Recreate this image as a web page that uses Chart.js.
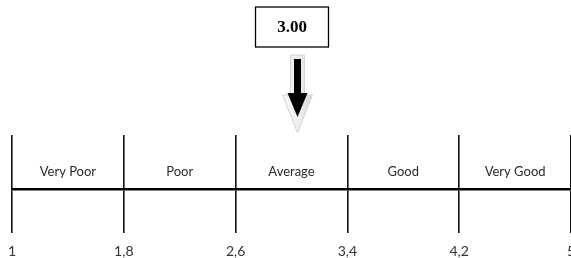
<!DOCTYPE html>
<html>
<head>
<meta charset="utf-8">
<script src="https://cdn.jsdelivr.net/npm/chart.js@4/dist/chart.umd.min.js"></script>
<style>
  html, body { margin: 0; padding: 0; background: #fff; overflow: hidden; }
  #wrap { width: 571px; height: 258px; }
</style>
</head>
<body>
<div id="wrap"><canvas id="scale-chart"></canvas></div>
<script>
// --- Data ---
const scoreValue = 3.00;
const tickValues = [1, 1.8, 2.6, 3.4, 4.2, 5];
const categories = ['Very Poor', 'Poor', 'Average', 'Good', 'Very Good'];

// labels, arrow and value box drawn from the x scale
const scaleExtras = {
    id: 'scaleExtras',
    afterDraw(chart) {
        const ctx = chart.ctx;
        const x = chart.scales.x;
        const area = chart.chartArea;

        // category names between the ticks
        ctx.save();
        ctx.fillStyle = '#2b2b2b';
        ctx.font = '13px Lato';
        ctx.textAlign = 'center';
        ctx.textBaseline = 'middle';
        categories.forEach((name, i) => {
            const mid = (tickValues[i] + tickValues[i + 1]) / 2;
            ctx.fillText(name, x.getPixelForValue(mid), area.top + 37);
        });
        ctx.restore();

        const cx = x.getPixelForValue(scoreValue);

        // value box
        ctx.save();
        ctx.fillStyle = '#fff';
        ctx.strokeStyle = '#000';
        ctx.lineWidth = 1.3;
        ctx.fillRect(cx - 36, 7, 73, 40);
        ctx.strokeRect(cx - 36, 7, 73, 40);
        ctx.fillStyle = '#000';
        ctx.font = 'bold 17px "Liberation Serif"';
        ctx.textAlign = 'center';
        ctx.textBaseline = 'middle';
        ctx.fillText(scoreValue.toFixed(2), cx + 0.5, 28);
        ctx.restore();

        // arrow: pale outline + black core
        const ax = cx + 6;
        ctx.save();
        const grad = ctx.createLinearGradient(ax - 15, 0, ax + 15, 0);
        grad.addColorStop(0, '#f7f7f7');
        grad.addColorStop(0.6, '#ececec');
        grad.addColorStop(1, '#d6d6d6');
        ctx.beginPath();
        ctx.moveTo(ax - 7, 55);
        ctx.lineTo(ax + 7, 55);
        ctx.lineTo(ax + 7, 95);
        ctx.lineTo(ax + 15, 95);
        ctx.lineTo(ax, 133);
        ctx.lineTo(ax - 15, 95);
        ctx.lineTo(ax - 7, 95);
        ctx.closePath();
        ctx.fillStyle = grad;
        ctx.fill();
        ctx.strokeStyle = '#d4d4d4';
        ctx.lineWidth = 1;
        ctx.stroke();

        ctx.beginPath();
        ctx.moveTo(ax - 3.5, 59);
        ctx.lineTo(ax + 3.5, 59);
        ctx.lineTo(ax + 3.5, 93);
        ctx.lineTo(ax + 10, 93);
        ctx.lineTo(ax, 117);
        ctx.lineTo(ax - 10, 93);
        ctx.lineTo(ax - 3.5, 93);
        ctx.closePath();
        ctx.fillStyle = '#000';
        ctx.fill();
        ctx.restore();
    }
};

const chart = new Chart(document.getElementById('scale-chart'), {
    type: 'scatter',
    data: { datasets: [{ data: [], pointRadius: 0 }] },
    options: {
        responsive: true,
        maintainAspectRatio: false,
        animation: false,
        events: [],
        layout: { padding: { top: 135, left: 12, right: 0, bottom: 0 } },
        plugins: { legend: { display: false }, tooltip: { enabled: false } },
        scales: {
            x: {
                type: 'linear',
                min: tickValues[0],
                max: tickValues[tickValues.length - 1],
                afterBuildTicks: scale => {
                    scale.ticks = tickValues.map(v => ({ value: v }));
                },
                afterFit: scale => {
                    scale.paddingLeft = 0;
                    scale.paddingRight = 0;
                    scale.height = 69;
                },
                border: { display: true, color: '#000', width: 2.5 },
                grid: { color: '#111', lineWidth: 1.6, tickLength: 44, drawTicks: true },
                ticks: {
                    color: '#333',
                    font: { family: 'Lato', size: 14 },
                    padding: 10,
                    maxRotation: 0,
                    autoSkip: false,
                    callback: v => String(v).replace('.', ',')
                }
            },
            y: { display: false, min: 0, max: 1 }
        }
    },
    plugins: [scaleExtras]
});
</script>
</body>
</html>
